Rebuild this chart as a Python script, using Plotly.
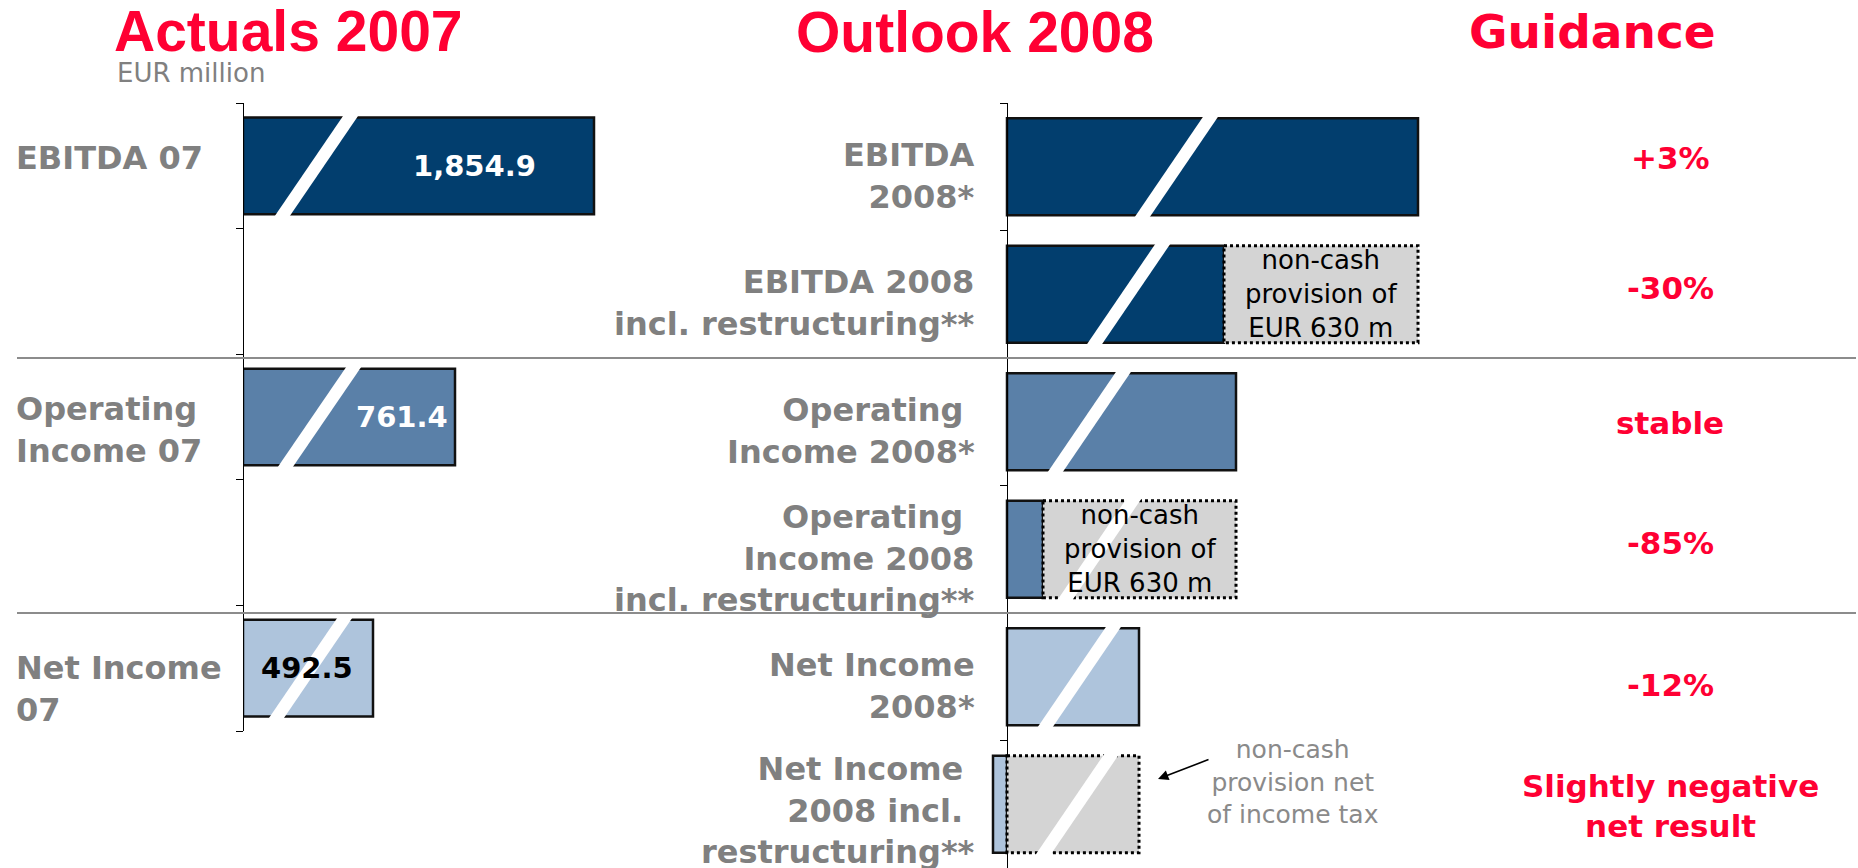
import plotly.graph_objects as go

W, H = 1858, 868

# ---------------- data ----------------
actual_labels = ["EBITDA 07", "Operating<br>Income 07", "Net Income<br>07"]
actual_values = ["1,854.9", "761.4", "492.5"]
# drawn (broken-axis) bar lengths
actual_bar_len = [351, 212, 130]

outlook_labels = [
    "EBITDA<br>2008*",
    "EBITDA 2008<br>incl. restructuring**",
    "Operating <br>Income 2008*",
    "Operating <br>Income 2008<br>incl. restructuring**",
    "Net Income<br>2008*",
    "Net Income <br>2008 incl. <br>restructuring**",
]
outlook_bar_len = [411, 217, 229, 36, 132, -14]
provision_len = [0, 194, 0, 193, 0, 132]
provision_text = ["", "non-cash<br>provision of<br>EUR 630 m", "",
                  "non-cash<br>provision of<br>EUR 630 m", "", ""]
guidance = ["+3%", "-30%", "stable", "-85%", "-12%", "Slightly negative<br>net result"]

titles = ["Actuals 2007", "Outlook 2008", "Guidance"]
unit_label = "EUR million"
net_note = "non-cash<br>provision net<br>of income tax"

# ---------------- styles ----------------
DARK, MED, LIGHT = "#023E6E", "#5A80A8", "#AEC4DC"
GREY_FILL = "#D4D4D4"
RED = "#FF0033"
GREY_TXT = "#808080"
BOLD = "DejaVu Sans"
actual_colors = [DARK, MED, LIGHT]
outlook_colors = [DARK, DARK, MED, MED, LIGHT, LIGHT]
actual_rows = [0.5, 2.5, 4.5]
outlook_rows = [0.5 + i for i in range(6)]
BW_L, BW_M = 0.77, 0.76
slash_left = [33, 36, 27]
slash_mid = [129, 81, 42, 52, 32, 30]
SL_DX, SL_W = 66, 15
value_frac = [0.66, 0.75, 0.49]
value_colors = ["white", "white", "black"]

AX_L = 243   # px of left value axis
AX_M = 1007  # px of middle value axis
TOP = 103

def px(x):
    return x / W

def py(y):
    return 1 - y / H

fig = go.Figure()

fig.add_trace(go.Bar(
    x=actual_bar_len, y=actual_rows, orientation="h", width=BW_L,
    marker=dict(color=actual_colors, line=dict(color="#111111", width=2.5)),
    xaxis="x", yaxis="y", hoverinfo="skip", showlegend=False))

fig.add_trace(go.Bar(
    x=outlook_bar_len, y=outlook_rows, orientation="h", width=BW_M,
    marker=dict(color=outlook_colors, line=dict(color="#111111", width=2.5)),
    xaxis="x2", yaxis="y2", hoverinfo="skip", showlegend=False))

shapes = []
# provision (dotted grey) boxes
for r, L, b in zip(outlook_rows, provision_len, outlook_bar_len):
    if L:
        base = max(0, b)
        shapes.append(dict(type="rect", xref="x2", yref="y2",
                           x0=base, x1=base + L, y0=r - BW_M / 2, y1=r + BW_M / 2,
                           fillcolor=GREY_FILL, line=dict(color="black", width=3, dash="dot"),
                           layer="above"))

def slash(xb, yc, hw, xref, yref):
    d = 0.02
    slope = SL_DX / (2 * hw)
    yb, yt = yc + hw + d, yc - hw - d
    x0 = xb - slope * d
    x1 = xb + SL_DX + slope * d
    path = f"M {x0},{yb} L {x0 + SL_W},{yb} L {x1 + SL_W},{yt} L {x1},{yt} Z"
    return dict(type="path", path=path, xref=xref, yref=yref,
                fillcolor="white", line=dict(width=0), layer="above")

for xb, r in zip(slash_left, actual_rows):
    shapes.append(slash(xb, r, BW_L / 2, "x", "y"))
for xb, r in zip(slash_mid, outlook_rows):
    shapes.append(slash(xb, r, BW_M / 2, "x2", "y2"))

# separators
for yv in [2, 4]:
    shapes.append(dict(type="line", xref="paper", yref="y2", x0=px(17), x1=px(1856),
                       y0=yv, y1=yv, line=dict(color="#8C8C8C", width=2)))

ann = []
title_x = [288, 975, 1592]
title_y = [31, 32, 32]
title_fonts = ["Liberation Sans", "Liberation Sans", BOLD]
title_sizes = [57, 57, 47]
for t, x, yy, f, s in zip(titles, title_x, title_y, title_fonts, title_sizes):
    ann.append(dict(text=f"<b>{t}</b>", x=px(x), y=py(yy), xref="paper", yref="paper",
                    xanchor="center", yanchor="middle", showarrow=False,
                    font=dict(family=f, size=s, color=RED)))
ann.append(dict(text=unit_label, x=px(115), y=py(73), xref="paper", yref="paper",
                xanchor="left", yanchor="middle", showarrow=False,
                font=dict(family="DejaVu Sans", size=26, color=GREY_TXT)))

left_shift = [8, -13, -21]
for t, r, s in zip(actual_labels, actual_rows, left_shift):
    ann.append(dict(text=f"<b>{t}</b>", x=px(14), y=r, xref="paper", yref="y",
                    xanchor="left", yanchor="middle", align="left", yshift=s,
                    showarrow=False, font=dict(family=BOLD, size=32, color=GREY_TXT)))

for v, L, r, fr, c in zip(actual_values, actual_bar_len, actual_rows, value_frac, value_colors):
    ann.append(dict(text=f"<b>{v}</b>", x=L * fr, y=r, xref="x", yref="y",
                    xanchor="center", yanchor="middle", showarrow=False,
                    font=dict(family=BOLD, size=29, color=c)))

mid_shift = [-9, -9, -9, -9, -9, -6]
for t, r, s in zip(outlook_labels, outlook_rows, mid_shift):
    ann.append(dict(text=f"<b>{t}</b>", x=px(977), y=r, xref="paper", yref="y2",
                    xanchor="right", yanchor="middle", align="right", yshift=s,
                    showarrow=False, font=dict(family=BOLD, size=32, color=GREY_TXT)))

for t, L, b, r in zip(provision_text, provision_len, outlook_bar_len, outlook_rows):
    if t:
        base = max(0, b)
        ann.append(dict(text=t, x=base + L / 2, y=r, xref="x2", yref="y2",
                        xanchor="center", yanchor="middle", showarrow=False,
                        font=dict(family="DejaVu Sans", size=26, color="black")))

g_shift = [9, 6, -1, 6, -8, -2]
for t, r, s in zip(guidance, outlook_rows, g_shift):
    ann.append(dict(text=f"<b>{t}</b>", x=px(1670), y=r, xref="paper", yref="y2",
                    xanchor="center", yanchor="middle", align="center", yshift=s,
                    showarrow=False, font=dict(family=BOLD, size=31, color=RED)))

ann.append(dict(text=net_note, x=px(1292), y=py(782), xref="paper", yref="paper",
                xanchor="center", yanchor="middle", showarrow=False,
                font=dict(family="DejaVu Sans", size=25, color="#8A8A8A")))
ann.append(dict(text="", x=px(1158), y=py(779), xref="paper", yref="paper",
                showarrow=True, ax=52, ay=-20, arrowhead=2, arrowsize=1.3,
                arrowwidth=1.6, arrowcolor="black"))

fig.update_layout(
    width=W, height=H, margin=dict(l=0, r=0, t=0, b=0),
    paper_bgcolor="white", plot_bgcolor="white", barmode="overlay",
    shapes=shapes, annotations=ann, showlegend=False,
    xaxis=dict(domain=[px(AX_L), px(AX_L + 600)], range=[0, 600], visible=False,
               anchor="y", fixedrange=True),
    yaxis=dict(domain=[py(731), py(TOP)], range=[5, 0], anchor="free", position=px(AX_L),
               showline=True, linecolor="black", linewidth=1, ticks="outside",
               tickvals=[0, 1, 2, 3, 4, 5], ticklen=7, tickcolor="black", tickwidth=1,
               showticklabels=False, showgrid=False, zeroline=False, fixedrange=True),
    xaxis2=dict(domain=[px(AX_M - 30), px(AX_M + 570)], range=[-30, 570], visible=False,
                anchor="y2", fixedrange=True),
    yaxis2=dict(domain=[0, py(TOP)], range=[6, 0], anchor="free", position=px(AX_M),
                showline=True, linecolor="black", linewidth=1, ticks="outside",
                tickvals=[0, 1, 2, 3, 4, 5], ticklen=7, tickcolor="black", tickwidth=1,
                showticklabels=False, showgrid=False, zeroline=False, fixedrange=True),
)

fig.write_html("out.html", config={"displayModeBar": False},
               post_script="document.body.style.margin='0';document.body.style.overflow='hidden';")
